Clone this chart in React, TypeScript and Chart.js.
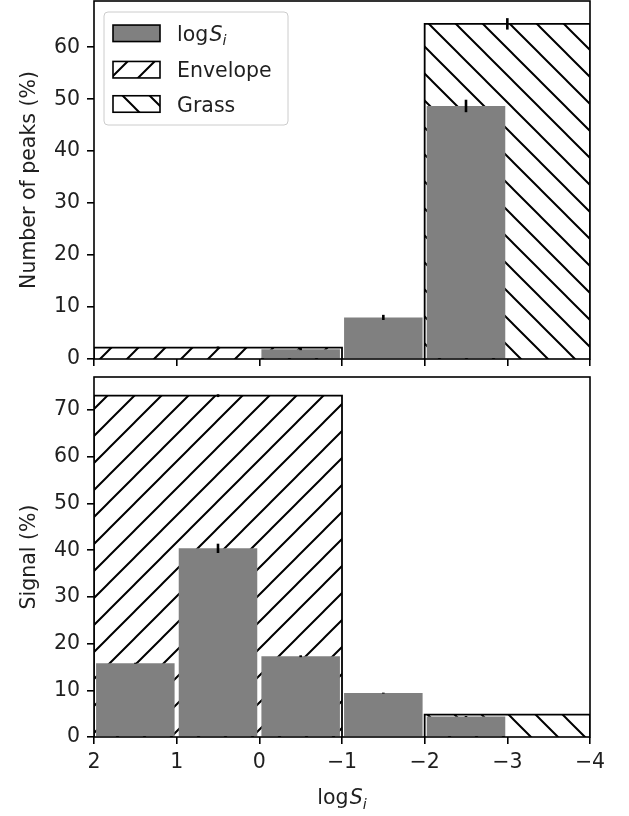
import React, { useEffect, useRef } from 'react';
import { Chart, registerables } from 'chart.js';

Chart.register(...registerables);

// ---------- data ----------
const binCenters = [1.5, 0.5, -0.5, -1.5, -2.5];
const peaksLog = [0, 0, 1.9, 8.0, 48.7];
const peaksLogErr = [0, 0, 0.2, 0.5, 1.2];
const signalLog = [15.8, 40.4, 17.3, 9.4, 4.4];
const signalLogErr = [0.1, 1.0, 0.2, 0.1, 0.1];

const envelopeRange = [2, -1];
const grassRange = [-2, -4];
const envelopePeaks = [2.2, 0.2]; // value, error
const grassPeaks = [64.5, 1.1];
const envelopeSignal = [73.1, 0.3];
const grassSignal = [4.8, 0.1];

const xLimits = [-4, 2];
const peaksYMax = 68.9;
const signalYMax = 77.1;

const legendLabels = ['Envelope', 'Grass'];
const peaksTitle = 'Number of peaks (%)';
const signalTitle = 'Signal (%)';

// ---------- style ----------
const FONT = 'DejaVu Sans';
const FS = 20.5;
const TXT = '#1f1f1f';
const GRAY = '#808080';

const fmt = (v: number) => (v < 0 ? '\u2212' + Math.abs(v) : String(v));

function makeHatch(ctx: CanvasRenderingContext2D, dir: string) {
  const s = 27;
  const c = document.createElement('canvas');
  c.width = s;
  c.height = s;
  const g = c.getContext('2d')!;
  g.fillStyle = '#ffffff';
  g.fillRect(0, 0, s, s);
  g.strokeStyle = '#000000';
  g.lineWidth = 2.0;
  g.beginPath();
  if (dir === '/') {
    g.moveTo(-3, s + 3); g.lineTo(s + 3, -3);
    g.moveTo(-3, 3); g.lineTo(3, -3);
    g.moveTo(s - 3, s + 3); g.lineTo(s + 3, s - 3);
  } else {
    g.moveTo(-3, -3); g.lineTo(s + 3, s + 3);
    g.moveTo(s - 3, -3); g.lineTo(s + 3, 3);
    g.moveTo(-3, s - 3); g.lineTo(3, s + 3);
  }
  g.stroke();
  return ctx.createPattern(c, 'repeat')!;
}

function drawLogSi(ctx: CanvasRenderingContext2D, x0: number, baseline: number, size: number, center: boolean) {
  const f1 = `${size}px "${FONT}"`;
  const f2 = `italic ${size}px "${FONT}"`;
  const f3 = `italic ${size * 0.7}px "${FONT}"`;
  ctx.font = f1; const w1 = ctx.measureText('log').width;
  ctx.font = f2; const w2 = ctx.measureText('S').width;
  ctx.font = f3; const w3 = ctx.measureText('i').width;
  const gap = size * 0.06;
  const total = w1 + gap + w2 + w3;
  let x = center ? x0 - total / 2 : x0;
  ctx.textAlign = 'left';
  ctx.textBaseline = 'alphabetic';
  ctx.fillStyle = TXT;
  ctx.font = f1; ctx.fillText('log', x, baseline); x += w1 + gap;
  ctx.font = f2; ctx.fillText('S', x, baseline); x += w2;
  ctx.font = f3; ctx.fillText('i', x, baseline + size * 0.22);
}

function roundRectPath(ctx: CanvasRenderingContext2D, x: number, y: number, w: number, h: number, r: number) {
  ctx.beginPath();
  ctx.moveTo(x + r, y);
  ctx.lineTo(x + w - r, y);
  ctx.arcTo(x + w, y, x + w, y + r, r);
  ctx.lineTo(x + w, y + h - r);
  ctx.arcTo(x + w, y + h, x + w - r, y + h, r);
  ctx.lineTo(x + r, y + h);
  ctx.arcTo(x, y + h, x, y + h - r, r);
  ctx.lineTo(x, y + r);
  ctx.arcTo(x, y, x + r, y, r);
  ctx.closePath();
}

const mid = (r: number[]) => (r[0] + r[1]) / 2;
const rect = (r: number[], h: number) => [
  { x: r[0], y: 0 },
  { x: r[0], y: h },
  { x: r[1], y: h },
  { x: r[1], y: 0 },
];

interface PanelCfg {
  values: number[];
  errs: number[];
  env: number[];
  grass: number[];
  yMax: number;
  yTitle: string;
  bottom: boolean;
}

function buildChart(canvas: HTMLCanvasElement, cfg: PanelCfg) {
  const ctx = canvas.getContext('2d')!;
  const slash = makeHatch(ctx, '/');
  const back = makeHatch(ctx, '\\');

  const errorItems = [
    ...binCenters.map((c, i) => ({ x: c, y: cfg.values[i], e: cfg.errs[i] })),
    { x: mid(envelopeRange), y: cfg.env[0], e: cfg.env[1] },
    { x: mid(grassRange), y: cfg.grass[0], e: cfg.grass[1] },
  ];

  const decor = {
    id: 'decor',
    afterDatasetsDraw(chart: any) {
      const { ctx: c, scales } = chart;
      const xs = scales.x;
      const ys = scales.y;
      c.save();
      c.strokeStyle = '#000';
      c.lineWidth = 2.6;
      c.lineCap = 'butt';
      for (const it of errorItems) {
        if (!it.e) continue;
        const px = xs.getPixelForValue(it.x);
        c.beginPath();
        c.moveTo(px, ys.getPixelForValue(it.y - it.e));
        c.lineTo(px, ys.getPixelForValue(it.y + it.e));
        c.stroke();
      }
      c.restore();
    },
    afterDraw(chart: any) {
      const c: CanvasRenderingContext2D = chart.ctx;
      const a = chart.chartArea;
      c.save();
      c.strokeStyle = '#000';
      c.lineWidth = 1.6;
      c.strokeRect(a.left, a.top, a.right - a.left, a.bottom - a.top);

      if (!cfg.bottom) {
        // legend
        const lx = a.left + 10;
        const ly = a.top + 11;
        roundRectPath(c, lx, ly, 184, 113, 4);
        c.fillStyle = 'rgba(255,255,255,0.8)';
        c.fill();
        c.strokeStyle = '#cccccc';
        c.lineWidth = 1;
        c.stroke();
        const rows = [33.3, 69.7, 104];
        const px = lx + 9;
        const pw = 47;
        const ph = 16.5;
        const fills = [GRAY, slash, back];
        rows.forEach((cy, i) => {
          c.fillStyle = fills[i] as any;
          c.fillRect(px, cy - ph / 2, pw, ph);
          c.strokeStyle = '#000';
          c.lineWidth = 1.6;
          c.strokeRect(px, cy - ph / 2, pw, ph);
          const tx = px + pw + 17;
          const base = cy + 7.6;
          if (i === 0) {
            drawLogSi(c, tx, base, FS, false);
          } else {
            c.font = `${FS}px "${FONT}"`;
            c.fillStyle = TXT;
            c.textAlign = 'left';
            c.textBaseline = 'alphabetic';
            c.fillText(legendLabels[i - 1], tx, base);
          }
        });
      } else {
        drawLogSi(c, (a.left + a.right) / 2, a.bottom + 67, FS, true);
      }
      c.restore();
    },
  };

  const gridOpts = {
    drawOnChartArea: false,
    drawTicks: true,
    tickLength: 7,
    color: '#000',
    lineWidth: 1.6,
    offset: false,
  };

  return new Chart(canvas, {
    type: 'bar',
    data: {
      datasets: [
        {
          type: 'bar',
          label: 'logSi',
          data: binCenters.map((c, i) => ({ x: c, y: cfg.values[i] })),
          backgroundColor: GRAY,
          borderWidth: 0,
          barPercentage: 0.95,
          categoryPercentage: 1,
          order: 0,
        } as any,
        {
          type: 'line',
          label: legendLabels[0],
          data: rect(envelopeRange, cfg.env[0]),
          borderColor: '#000',
          borderWidth: 1.8,
          backgroundColor: slash,
          fill: 'origin',
          pointRadius: 0,
          tension: 0,
          borderJoinStyle: 'miter',
          order: 1,
        } as any,
        {
          type: 'line',
          label: legendLabels[1],
          data: rect(grassRange, cfg.grass[0]),
          borderColor: '#000',
          borderWidth: 1.8,
          backgroundColor: back,
          fill: 'origin',
          pointRadius: 0,
          tension: 0,
          borderJoinStyle: 'miter',
          order: 2,
        } as any,
      ],
    },
    options: {
      animation: false,
      responsive: false,
      devicePixelRatio: 1,
      layout: { padding: { left: 0, right: 39, top: cfg.bottom ? 9 : 1, bottom: 0 } },
      plugins: {
        legend: { display: false },
        tooltip: { enabled: false },
      },
      scales: {
        x: {
          type: 'linear',
          reverse: true,
          min: xLimits[0],
          max: xLimits[1],
          offset: false,
          grid: gridOpts,
          border: { display: false },
          ticks: {
            display: cfg.bottom,
            stepSize: 1,
            includeBounds: false,
            padding: 6,
            color: TXT,
            font: { family: FONT, size: FS },
            callback: (v: any) => fmt(Number(v)),
            maxRotation: 0,
            autoSkip: false,
          },
          afterFit: (s: any) => {
            s.height = cfg.bottom ? 79 : 9;
            s.paddingLeft = 0;
            s.paddingRight = 0;
          },
        },
        y: {
          type: 'linear',
          min: 0,
          max: cfg.yMax,
          grid: gridOpts,
          border: { display: false },
          ticks: {
            stepSize: 10,
            includeBounds: false,
            padding: 7,
            color: TXT,
            font: { family: FONT, size: FS },
          },
          title: {
            display: true,
            text: cfg.yTitle,
            color: TXT,
            font: { family: FONT, size: FS },
            padding: { top: 17, bottom: 0 },
          },
          afterFit: (s: any) => {
            s.width = 94;
            s.paddingTop = 0;
            s.paddingBottom = 0;
          },
        },
      },
    } as any,
    plugins: [decor],
  });
}

export default function App() {
  const topRef = useRef<HTMLCanvasElement>(null);
  const botRef = useRef<HTMLCanvasElement>(null);

  useEffect(() => {
    const top = buildChart(topRef.current!, {
      values: peaksLog,
      errs: peaksLogErr,
      env: envelopePeaks,
      grass: grassPeaks,
      yMax: peaksYMax,
      yTitle: peaksTitle,
      bottom: false,
    });
    const bot = buildChart(botRef.current!, {
      values: signalLog,
      errs: signalLogErr,
      env: envelopeSignal,
      grass: grassSignal,
      yMax: signalYMax,
      yTitle: signalTitle,
      bottom: true,
    });
    return () => {
      top.destroy();
      bot.destroy();
    };
  }, []);

  return (
    <div style={{ position: 'absolute', left: 0, top: 0, width: 629, height: 816, background: '#fff' }}>
      <canvas ref={topRef} width={629} height={368} style={{ display: 'block' }} />
      <canvas ref={botRef} width={629} height={448} style={{ display: 'block' }} />
    </div>
  );
}
